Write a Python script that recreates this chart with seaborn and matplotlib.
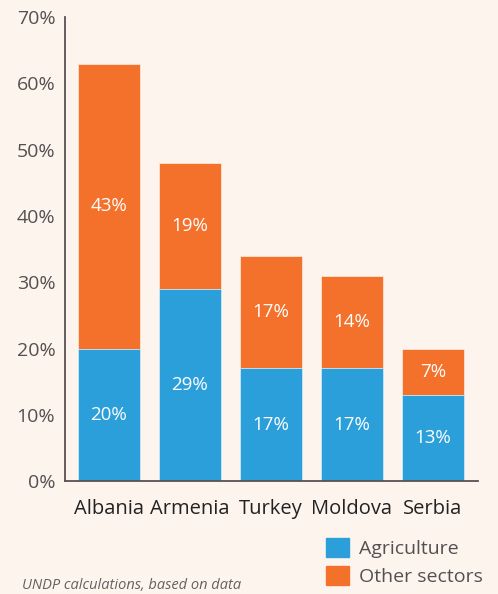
import pandas as pd
import matplotlib.pyplot as plt
import matplotlib.patches as mpatches
import seaborn as sns

countries = ["Albania", "Armenia", "Turkey", "Moldova", "Serbia"]
agriculture = [20, 29, 17, 17, 13]
other_sectors = [43, 19, 17, 14, 7]

BG = "#FDF4EE"
BLUE = "#2B9FDA"
ORANGE = "#F3712B"

df = pd.DataFrame({"country": countries, "agri": agriculture, "other": other_sectors})
df["total"] = df["agri"] + df["other"]

sns.set_style("white")
plt.rcParams["font.family"] = ["Open Sans", "DejaVu Sans"]

fig = plt.figure(figsize=(4.98, 5.94), dpi=100, facecolor=BG)
ax = fig.add_axes([0.1305, 0.19, 0.8295, 0.781])
ax.set_facecolor(BG)

sns.barplot(data=df, x="country", y="total", color=ORANGE, saturation=1, width=0.76,
            edgecolor="#FCE3D4", linewidth=0.6, ax=ax)
sns.barplot(data=df, x="country", y="agri", color=BLUE, saturation=1, width=0.76,
            edgecolor="#CDEAF8", linewidth=0.6, ax=ax)

for i, row in df.iterrows():
    ax.text(i, row["agri"] / 2, f"{row['agri']}%", ha="center", va="center",
            color="white", fontsize=13.5)
    ax.text(i, row["agri"] + row["other"] / 2, f"{row['other']}%", ha="center",
            va="center", color="white", fontsize=13.5)

ax.set_xlim(-0.54, 4.56)
ax.set_ylim(0, 70)
ax.set_yticks(range(0, 71, 10))
ax.set_yticklabels([f"{v}%" for v in range(0, 71, 10)], color="#555050", fontsize=14)
ax.tick_params(axis="y", length=0, pad=7)
ax.tick_params(axis="x", length=0, pad=13, labelsize=14.5, labelcolor="#222222")
ax.set_xlabel("")
ax.set_ylabel("")
for s in ["top", "right"]:
    ax.spines[s].set_visible(False)
for s in ["left", "bottom"]:
    ax.spines[s].set_color("#5A5252")
    ax.spines[s].set_linewidth(1.3)

handles = [mpatches.Patch(color=BLUE, label="Agriculture"),
           mpatches.Patch(color=ORANGE, label="Other sectors")]
fig.legend(handles=handles, loc="upper left", bbox_to_anchor=(0.655, 0.094),
           frameon=False, fontsize=14, handlelength=1.18, handleheight=1.15,
           handletextpad=0.5, labelspacing=0.4, labelcolor="#555050",
           borderaxespad=0, borderpad=0)

fig.text(0.045, 0.001, "UNDP calculations, based on data", fontsize=10.5,
         style="italic", color="#666060", va="bottom")

fig.savefig("out.png", dpi=100, facecolor=BG)
